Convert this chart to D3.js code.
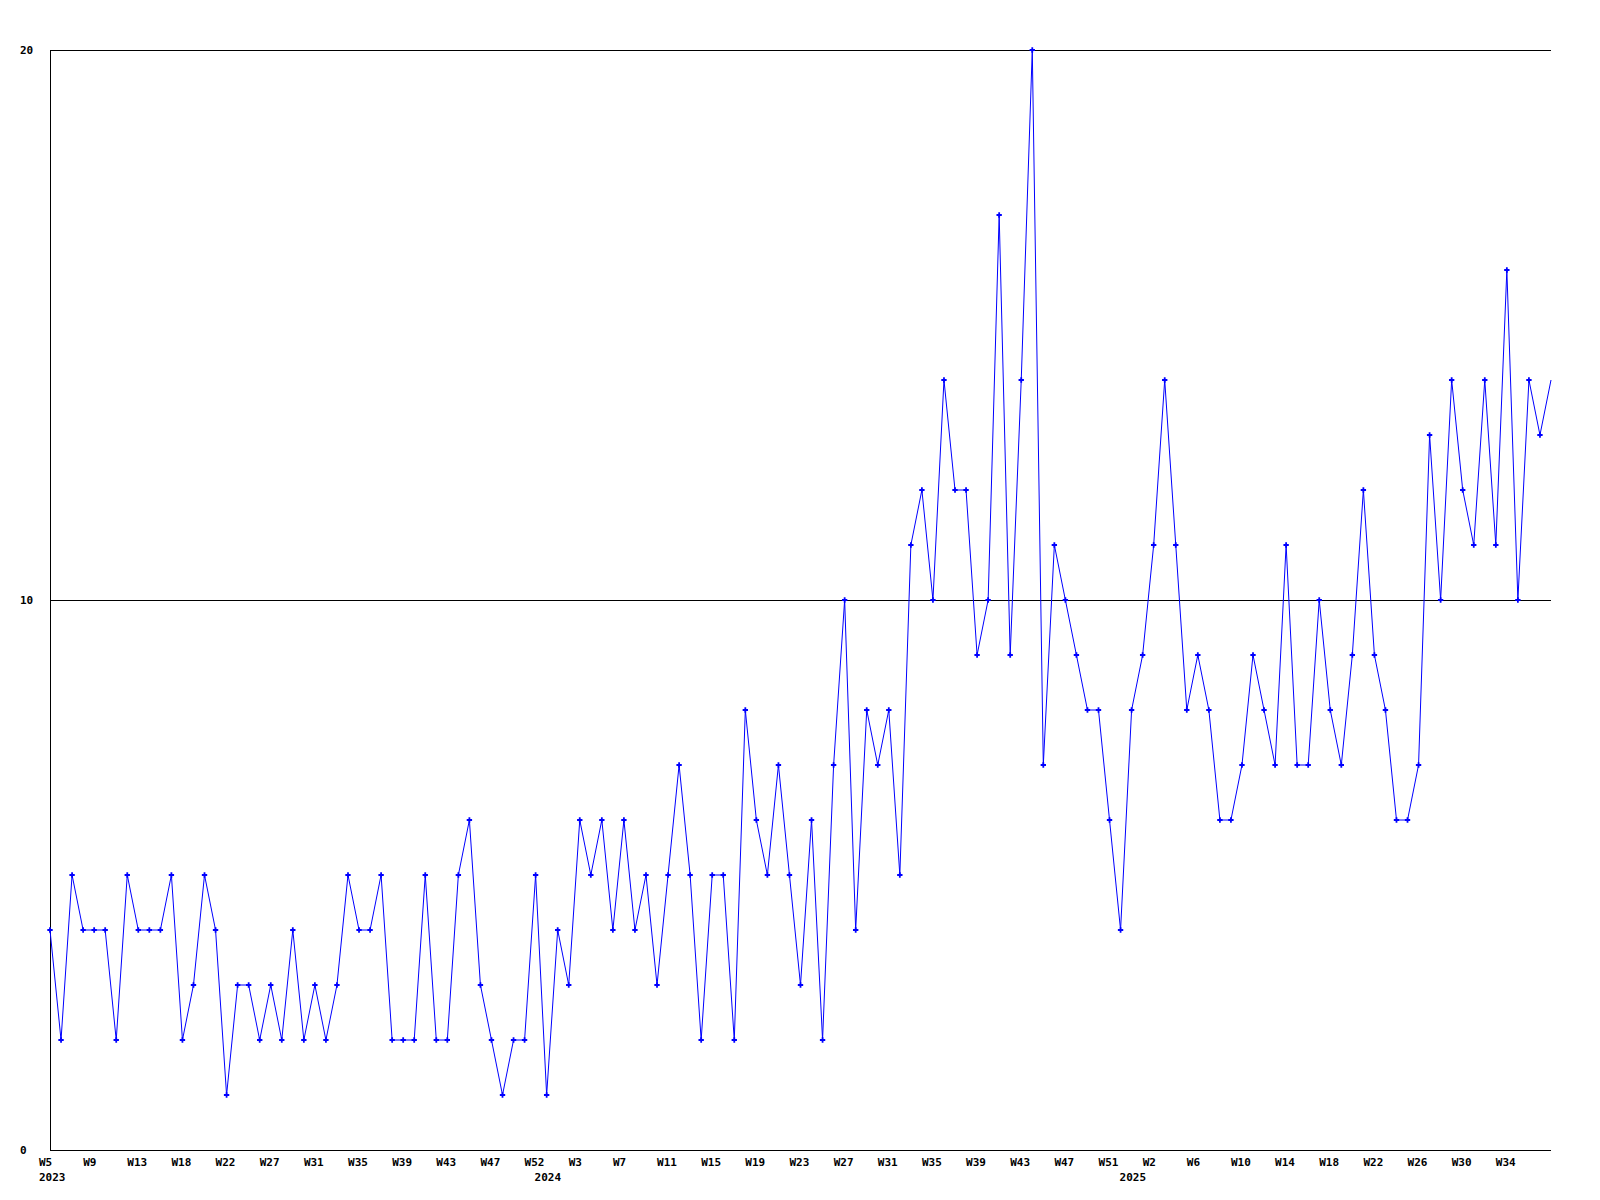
<!DOCTYPE html>
<html>
<head>
<meta charset="utf-8">
<script src="https://cdn.jsdelivr.net/npm/d3@7"></script>
<style>
  html, body { margin: 0; padding: 0; background: #fff; }
  svg { display: block; }
  text { font-family: "DejaVu Sans Mono", monospace; font-weight: bold; font-size: 11px; fill: #000; }
</style>
</head>
<body>
<svg id="chart" width="1600" height="1200"></svg>
<script>
// Weekly values, 2023 W5 .. 2025 (last point is the current, unmarked week)
const values = [
  4,2,5,4,4,4,2,5,4,4,
  4,5,2,3,5,4,1,3,3,2,
  3,2,4,2,3,2,3,5,4,4,
  5,2,2,2,5,2,2,5,6,3,
  2,1,2,2,5,1,4,3,6,5,
  6,4,6,4,5,3,5,7,5,2,
  5,5,2,8,6,5,7,5,3,6,
  2,7,10,4,8,7,8,5,11,12,
  10,14,12,12,9,10,17,9,14,20,
  7,11,10,9,8,8,6,4,8,9,
  11,14,11,8,9,8,6,6,7,9,
  8,7,11,7,7,10,8,7,9,12,
  9,8,6,6,7,13,10,14,12,11,
  14,11,16,10,14,13,14
];
// Tick labels, one every 4 points
const tickLabels = [
  "W5","W9","W13","W18","W22","W27","W31","W35","W39","W43","W47","W52",
  "W3","W7","W11","W15","W19","W23","W27","W31","W35","W39","W43","W47","W51",
  "W2","W6","W10","W14","W18","W22","W26","W30","W34"
];
const tickStep = 4;
const yearLabels = ["2023", "2024", "2025"];
const yearIndex = [0, 44, 97];
const yTicks = [0, 10, 20];

(function () {
const svg = d3.select("#chart");
const mL = 50, mR = 1551, mT = 50, mB = 1150;

const x = d3.scaleLinear().domain([0, values.length - 1]).range([mL, mR]);
const y = d3.scaleLinear().domain([0, 20]).range([mB, mT]);

// gridlines
svg.append("g").selectAll("line").data(yTicks.filter(d => d > 0)).join("line")
  .attr("x1", mL).attr("x2", mR)
  .attr("y1", d => Math.round(y(d)) + 0.5).attr("y2", d => Math.round(y(d)) + 0.5)
  .attr("stroke", "#000").attr("stroke-width", 1).attr("shape-rendering", "crispEdges");

// axes lines
svg.append("line").attr("x1", mL + 0.5).attr("x2", mL + 0.5).attr("y1", mT).attr("y2", mB + 1)
  .attr("stroke", "#000").attr("shape-rendering", "crispEdges");
svg.append("line").attr("x1", mL).attr("x2", mR).attr("y1", mB + 0.5).attr("y2", mB + 0.5)
  .attr("stroke", "#000").attr("shape-rendering", "crispEdges");

// y labels
svg.append("g").selectAll("text").data(yTicks).join("text")
  .attr("x", 20).attr("y", d => y(d) + 4)
  .text(d => d);

// x labels
svg.append("g").selectAll("text").data(tickLabels).join("text")
  .attr("x", (d, i) => x(i * tickStep) - 11)
  .attr("y", 1166)
  .text(d => d);

svg.append("g").selectAll("text").data(yearLabels).join("text")
  .attr("x", (d, i) => x(yearIndex[i]) - (i === 0 ? 11 : 1))
  .attr("y", 1181)
  .text(d => d);

// line
const line = d3.line().x((d, i) => x(i)).y(d => y(d));
svg.append("path").datum(values)
  .attr("d", line)
  .attr("fill", "none")
  .attr("stroke", "#0000ff")
  .attr("stroke-width", 1);

// markers (all but the last, current point)
const marker = d3.symbol().type(d3.symbolCross).size(16);
svg.append("g").selectAll("path").data(values.slice(0, -1)).join("path")
  .attr("transform", (d, i) => `translate(${x(i)},${y(d)})`)
  .attr("d", marker)
  .attr("fill", "#0000ff");
})();
</script>
</body>
</html>
